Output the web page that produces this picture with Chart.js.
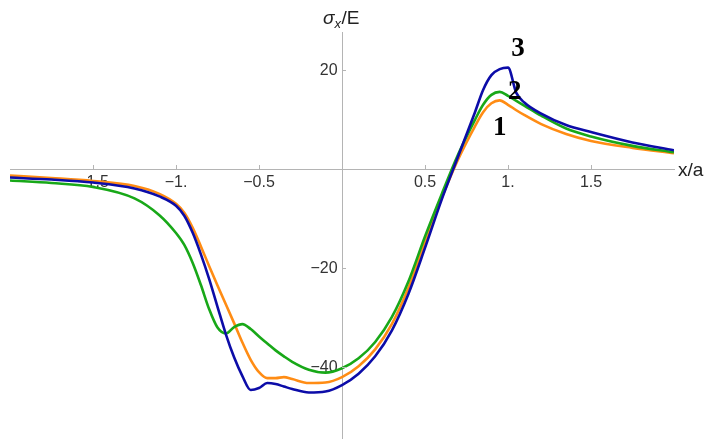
<!DOCTYPE html>
<html>
<head>
<meta charset="utf-8">
<script src="https://cdn.jsdelivr.net/npm/chart.js@4.4.1/dist/chart.umd.min.js"></script>
<style>
  html, body { margin: 0; padding: 0; background: #fff; overflow: hidden; }
  #chart-stress { width: 705px; height: 439px; }
</style>
</head>
<body>
<div id="chart-stress"><canvas id="stressCanvas" width="705" height="439"></canvas></div>
<script>
// x/a sample positions shared by the three curves
const xValues = [-2, -1.75, -1.5, -1.25, -1.1, -1.0, -0.95, -0.9, -0.85, -0.8, -0.75, -0.7, -0.65, -0.6, -0.55, -0.5,
  -0.45, -0.4, -0.35, -0.3, -0.2, -0.1, 0, 0.1, 0.2, 0.3, 0.4, 0.5, 0.6, 0.7, 0.8, 0.85, 0.9, 0.95, 1.0, 1.05, 1.1,
  1.2, 1.35, 1.5, 1.75, 2.0];

// sigma_x / E
const curve1 = [-1.3, -1.8, -2.4, -3.4, -5.0, -7.0, -8.8, -11.8, -15.6, -19.6, -23.5, -27.3, -31.1, -35.0, -38.5, -41.0,
  -42.2, -42.2, -42.0, -42.4, -43.2, -43.1, -42.0, -39.8, -36.4, -31.3, -24.0, -14.8, -5.9, 2.0, 8.6, 11.5, 13.3, 13.9,
  13.0, 11.9, 10.9, 9.1, 7.1, 5.7, 4.3, 3.2];
const curve2 = [-2.3, -2.8, -3.6, -5.9, -9.3, -12.9, -15.3, -18.9, -23.4, -28.3, -32.0, -33.2, -31.9, -31.3, -32.3, -33.8,
  -35.2, -36.6, -37.8, -38.9, -40.5, -41.1, -40.2, -38.2, -34.9, -29.9, -22.7, -13.6, -5.1, 3.0, 9.9, 13.0, 15.0, 15.6,
  14.8, 13.8, 12.8, 10.8, 8.2, 6.6, 4.7, 3.4];
const curve3 = [-1.7, -2.1, -2.7, -3.9, -5.5, -7.4, -9.4, -12.8, -17.2, -22.2, -27.8, -33.3, -38.0, -41.8, -44.6, -44.2,
  -43.2, -43.4, -43.9, -44.4, -45.1, -44.9, -43.6, -41.3, -37.8, -32.6, -25.2, -15.9, -6.2, 2.6, 11.4, 16.0, 19.0, 20.2,
  20.5, 15.4, 13.4, 11.2, 8.9, 7.5, 5.4, 3.8];

const xTickValues = [-1.5, -1, -0.5, 0.5, 1, 1.5];
const yTickValues = [-40, -20, 20];

// curve numbers and where they sit (data coords)
const curveLabels = ['1', '2', '3'];
const labelX = [0.95, 1.04, 1.06];
const labelY = [8.3, 15.6, 24.3];

const MINUS = '\u2212';

function formatX(v) {
  if (v === 0 || Math.abs(v) >= 2) return '';
  const s = Number.isInteger(v) ? Math.abs(v) + '.' : String(Math.abs(v));
  return (v < 0 ? MINUS : '') + s;
}

function formatY(v) {
  if (v === 0) return '';
  return (v < 0 ? MINUS : '') + Math.abs(v) + ' ';
}

function toPoints(ys) {
  return xValues.map((x, i) => ({ x: x, y: ys[i] }));
}

function noPadding(scale) {
  scale.paddingLeft = scale.paddingRight = scale.paddingTop = scale.paddingBottom = 0;
}

// ticks inside the axes, axis names and curve numbers
const axisDecor = {
  id: 'axisDecor',
  afterDraw(chart) {
    const ctx = chart.ctx;
    const xs = chart.scales.x;
    const ys = chart.scales.y;
    const x0 = Math.round(xs.getPixelForValue(0));
    const y0 = Math.round(ys.getPixelForValue(0));
    ctx.save();

    ctx.strokeStyle = '#b4b4b4';
    ctx.lineWidth = 1;
    ctx.beginPath();
    xTickValues.forEach(v => {
      const px = Math.round(xs.getPixelForValue(v)) + 0.5;
      ctx.moveTo(px, y0);
      ctx.lineTo(px, y0 - 4);
    });
    yTickValues.forEach(v => {
      const py = Math.round(ys.getPixelForValue(v)) + 0.5;
      ctx.moveTo(x0, py);
      ctx.lineTo(x0 + 4, py);
    });
    ctx.stroke();

    ctx.fillStyle = '#222';
    ctx.textAlign = 'left';
    ctx.textBaseline = 'middle';
    ctx.font = '19px "Liberation Sans", Arial, sans-serif';
    ctx.fillText('x/a', xs.right + 4, y0 + 2);

    // sigma_x / E
    ctx.textBaseline = 'alphabetic';
    let tx = x0 - 19;
    ctx.font = 'italic 19px "Liberation Sans", Arial, sans-serif';
    ctx.fillText('σ', tx, 24);
    tx += ctx.measureText('σ').width;
    ctx.font = 'italic 13px "Liberation Sans", Arial, sans-serif';
    ctx.fillText('x', tx, 28);
    tx += ctx.measureText('x').width + 0.5;
    ctx.font = '19px "Liberation Sans", Arial, sans-serif';
    ctx.fillText('/E', tx, 24);

    ctx.fillStyle = '#000';
    ctx.textAlign = 'center';
    ctx.textBaseline = 'middle';
    ctx.font = 'bold 27px "Liberation Serif", "Times New Roman", serif';
    curveLabels.forEach((t, i) => {
      ctx.fillText(t, xs.getPixelForValue(labelX[i]), ys.getPixelForValue(labelY[i]));
    });
    ctx.restore();
  }
};

const tickFont = { family: '"Liberation Sans", Arial, sans-serif', size: 16 };

new Chart(document.getElementById('stressCanvas').getContext('2d'), {
  type: 'scatter',
  data: {
    datasets: [
      { label: '3', data: toPoints(curve3), borderColor: '#0c0ca8' },
      { label: '2', data: toPoints(curve2), borderColor: '#18a818' },
      { label: '1', data: toPoints(curve1), borderColor: '#ff8c14' }
    ].map(d => Object.assign(d, {
      showLine: true, fill: false, pointRadius: 0, borderWidth: 2.6, cubicInterpolationMode: 'monotone'
    }))
  },
  options: {
    responsive: false,
    animation: false,
    layout: { padding: { left: 10, right: 31, top: 32, bottom: 0 } },
    plugins: { legend: { display: false }, tooltip: { enabled: false } },
    scales: {
      x: {
        type: 'linear', min: -2, max: 2,
        position: { y: 0 },
        grid: { display: false, drawTicks: false },
        border: { display: true, color: '#b4b4b4', width: 1 },
        afterBuildTicks: s => { s.ticks = xTickValues.map(v => ({ value: v })); },
        afterFit: noPadding,
        ticks: { callback: formatX, color: '#333', font: tickFont, padding: 4, autoSkip: false, maxRotation: 0 }
      },
      y: {
        type: 'linear', min: -54.5, max: 27.7,
        position: { x: 0 },
        grid: { display: false, drawTicks: false },
        border: { display: true, color: '#b4b4b4', width: 1 },
        afterBuildTicks: s => { s.ticks = yTickValues.map(v => ({ value: v })); },
        afterFit: noPadding,
        ticks: { callback: formatY, color: '#333', font: tickFont, autoSkip: false }
      }
    }
  },
  plugins: [axisDecor]
});
</script>
</body>
</html>
